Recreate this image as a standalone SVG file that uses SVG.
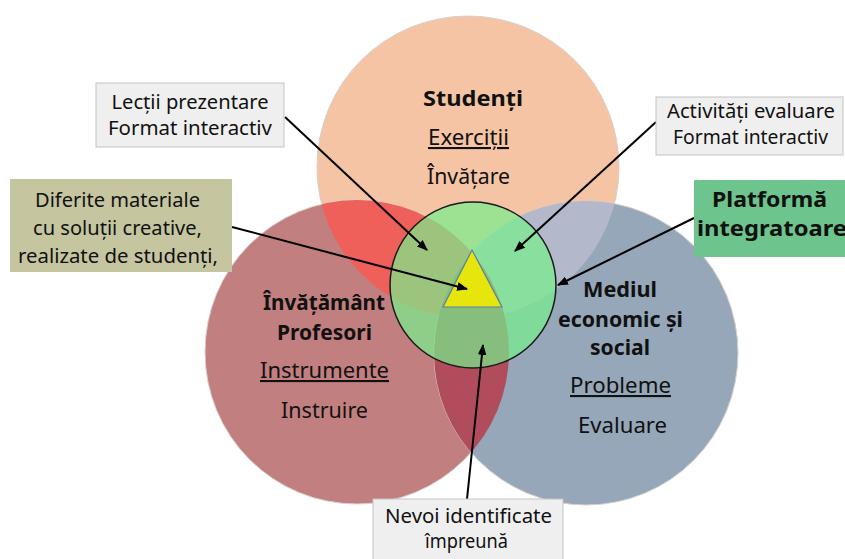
<svg xmlns="http://www.w3.org/2000/svg" width="845" height="559" viewBox="0 0 845 559">
<style>
  text{font-family:"Noto Sans","DejaVu Sans",sans-serif;fill:#111;text-anchor:middle}
  .b{font-weight:bold}
  .lbl{font-size:22px}
  .reg{font-size:21px}
  .u{text-decoration:underline}
  .bx{font-size:20px}
  .pf{font-size:21px;font-weight:bold}
  .big{stroke:#d6cfcb;stroke-width:1}
  .gbox{fill:#efefef;stroke:#c4c4c4;stroke-width:1}
  #connectors line{stroke:#000;stroke-width:2;marker-end:url(#arr)}
</style>
<defs>
  <clipPath id="cTop"><circle cx="468" cy="167" r="151"/></clipPath>
  <clipPath id="cLeft"><circle cx="357" cy="352" r="152"/></clipPath>
  <marker id="arr" viewBox="0 0 10 8" refX="9" refY="4" markerWidth="11" markerHeight="9" markerUnits="userSpaceOnUse" orient="auto">
    <path d="M0,0 L10,4 L0,8 z" fill="#000"/>
  </marker>
</defs>

<g id="circle-studenti">
  <circle class="big" cx="468" cy="167" r="151" fill="#f5c4a5"/>
</g>
<g id="circle-invatamant">
  <circle class="big" cx="357" cy="352" r="152" fill="#c27f7f"/>
</g>
<g id="circle-mediul">
  <circle class="big" cx="586" cy="353" r="152" fill="#95a7b9"/>
</g>

<g id="overlaps">
  <circle cx="357" cy="352" r="152" fill="#f0605a" clip-path="url(#cTop)"/>
  <circle cx="586" cy="353" r="152" fill="#b3b8ca" clip-path="url(#cTop)"/>
  <circle cx="586" cy="353" r="152" fill="#b04c5b" clip-path="url(#cLeft)"/>
</g>

<g id="platforma-centru">
  <circle cx="473" cy="285" r="83" fill="rgb(120,240,140)" fill-opacity="0.7" stroke="#1a1a1a" stroke-width="1.5"/>
  <polygon points="472,250 443,307 502,307" fill="#e6e60c" stroke="#5b7fa6" stroke-width="1.2"/>
</g>

<g id="labels-studenti">
  <text class="lbl b" x="473" y="106" textLength="100" lengthAdjust="spacingAndGlyphs">Studenți</text>
  <text class="reg u" x="468.5" y="145" textLength="81" lengthAdjust="spacingAndGlyphs">Exerciții</text>
  <text class="reg" x="468.5" y="184" textLength="83" lengthAdjust="spacingAndGlyphs">Învățare</text>
</g>
<g id="labels-invatamant">
  <text class="lbl b" x="324" y="310" textLength="122" lengthAdjust="spacingAndGlyphs">Învățământ</text>
  <text class="lbl b" x="324.5" y="340" textLength="95" lengthAdjust="spacingAndGlyphs">Profesori</text>
  <text class="reg u" x="324.5" y="378" textLength="129" lengthAdjust="spacingAndGlyphs">Instrumente</text>
  <text class="reg" x="324.5" y="418" textLength="87" lengthAdjust="spacingAndGlyphs">Instruire</text>
</g>
<g id="labels-mediul">
  <text class="lbl b" x="620" y="297" textLength="74" lengthAdjust="spacingAndGlyphs">Mediul</text>
  <text class="lbl b" x="620.5" y="327" textLength="125" lengthAdjust="spacingAndGlyphs">economic și</text>
  <text class="lbl b" x="620" y="355" textLength="60" lengthAdjust="spacingAndGlyphs">social</text>
  <text class="reg u" x="620.5" y="393" textLength="101" lengthAdjust="spacingAndGlyphs">Probleme</text>
  <text class="reg" x="622.5" y="433" textLength="89" lengthAdjust="spacingAndGlyphs">Evaluare</text>
</g>

<g id="connectors">
  <line x1="285" y1="117" x2="427" y2="250"/>
  <line x1="656" y1="122" x2="515" y2="251"/>
  <line x1="694" y1="218" x2="558" y2="285"/>
  <line x1="232" y1="227" x2="467" y2="289"/>
  <line x1="467" y1="499" x2="483" y2="345"/>
</g>

<g id="box-lectii">
  <rect class="gbox" x="96" y="83" width="188" height="64"/>
  <text class="bx" x="190" y="109" textLength="157" lengthAdjust="spacingAndGlyphs">Lecții prezentare</text>
  <text class="bx" x="190" y="135" textLength="164" lengthAdjust="spacingAndGlyphs">Format interactiv</text>
</g>
<g id="box-activitati">
  <rect class="gbox" x="656" y="97" width="187" height="58"/>
  <text class="bx" x="751" y="118" textLength="168" lengthAdjust="spacingAndGlyphs">Activități evaluare</text>
  <text class="bx" x="750.5" y="144" textLength="155" lengthAdjust="spacingAndGlyphs">Format interactiv</text>
</g>
<g id="box-platforma">
  <rect x="694" y="180" width="160" height="77" fill="#6dc48c"/>
  <text class="pf" x="769.5" y="207" textLength="115" lengthAdjust="spacingAndGlyphs">Platformă</text>
  <text class="pf" style="text-anchor:start" x="697" y="236" textLength="150" lengthAdjust="spacingAndGlyphs">integratoare</text>
</g>
<g id="box-diferite">
  <rect x="10" y="179" width="222" height="93" fill="#c5c5a0"/>
  <text class="bx" x="117.5" y="207" textLength="165" lengthAdjust="spacingAndGlyphs">Diferite materiale</text>
  <text class="bx" x="117.5" y="235" textLength="169" lengthAdjust="spacingAndGlyphs">cu soluții creative,</text>
  <text class="bx" x="118" y="263" textLength="200" lengthAdjust="spacingAndGlyphs">realizate de studenți,</text>
</g>
<g id="box-nevoi">
  <rect class="gbox" x="373" y="499" width="190" height="70"/>
  <text class="bx" x="468.5" y="523" textLength="167" lengthAdjust="spacingAndGlyphs">Nevoi identificate</text>
  <text class="bx" x="466.5" y="548" textLength="83" lengthAdjust="spacingAndGlyphs">împreună</text>
</g>
</svg>
